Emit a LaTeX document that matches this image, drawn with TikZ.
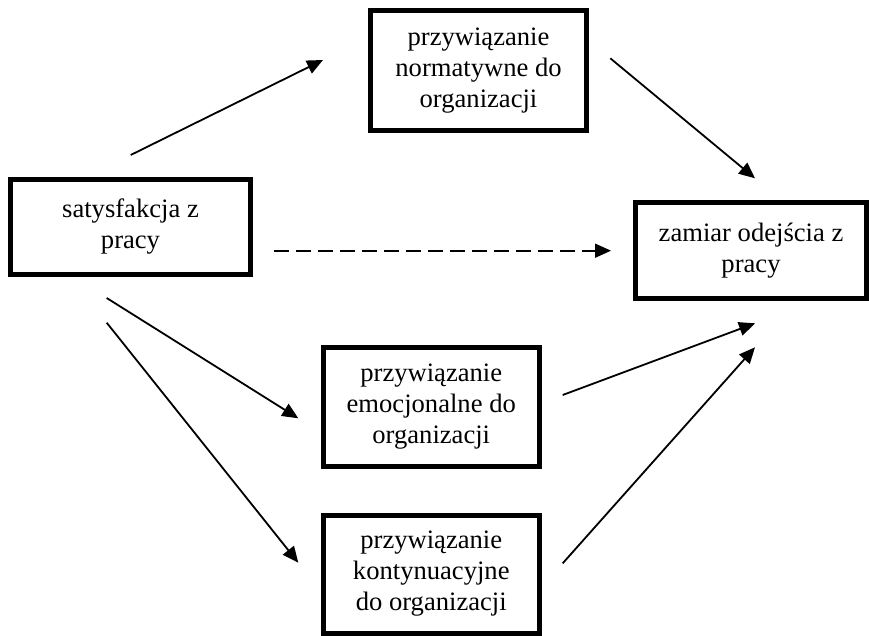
\documentclass[tikz,border=0pt]{standalone}
\usepackage{fontspec}
\setmainfont{Liberation Serif}
\usetikzlibrary{arrows.meta}
\begin{document}
\begin{tikzpicture}[x=1pt,y=-1pt,
  box/.style={draw=black, line width=5pt, fill=white, align=center,
    inner sep=0pt, font=\fontsize{26.6}{31}\selectfont},
  link/.style={line width=1.8pt, -{Triangle[length=16pt,width=14pt]}},
  dashlink/.style={link, dash pattern=on 15pt off 7pt}]
  \useasboundingbox (0,0) rectangle (869,636);

  % boxes
  \node[box, minimum width=240pt, minimum height=95pt] (sat) at (130.5,227) {satysfakcja z\\pracy};
  \node[box, minimum width=216pt, minimum height=120.5pt] (norm) at (478.5,70.75) {przywiązanie\\normatywne do\\organizacji};
  \node[box, minimum width=231pt, minimum height=95pt] (zam) at (751,250.5) {zamiar odejścia z\\pracy};
  \node[box, minimum width=215.5pt, minimum height=119.5pt] (emo) at (431.25,406.75) {przywiązanie\\emocjonalne do\\organizacji};
  \node[box, minimum width=215.5pt, minimum height=118pt] (kont) at (431.25,574) {przywiązanie\\kontynuacyjne\\do organizacji};

  % free ends of the connectors
  \coordinate (a1s) at (130.7,155);   \coordinate (a1e) at (323,60);
  \coordinate (a2s) at (610.3,58.3);  \coordinate (a2e) at (755,178.3);
  \coordinate (dss) at (274.3,250.7); \coordinate (dse) at (611,250.7);
  \coordinate (a3s) at (106.7,298);   \coordinate (a3e) at (298.3,418.3);
  \coordinate (a4s) at (106.7,322.7); \coordinate (a4e) at (298.3,562.7);
  \coordinate (a5s) at (562.7,395);   \coordinate (a5e) at (755,323.3);
  \coordinate (a6s) at (562.7,563.3); \coordinate (a6e) at (755,347.3);

  % connectors
  \draw[link] (a1s) -- (a1e);
  \draw[link] (a2s) -- (a2e);
  \draw[dashlink] (dss) -- (dse);
  \draw[link] (a3s) -- (a3e);
  \draw[link] (a4s) -- (a4e);
  \draw[link] (a5s) -- (a5e);
  \draw[link] (a6s) -- (a6e);
\end{tikzpicture}
\end{document}
